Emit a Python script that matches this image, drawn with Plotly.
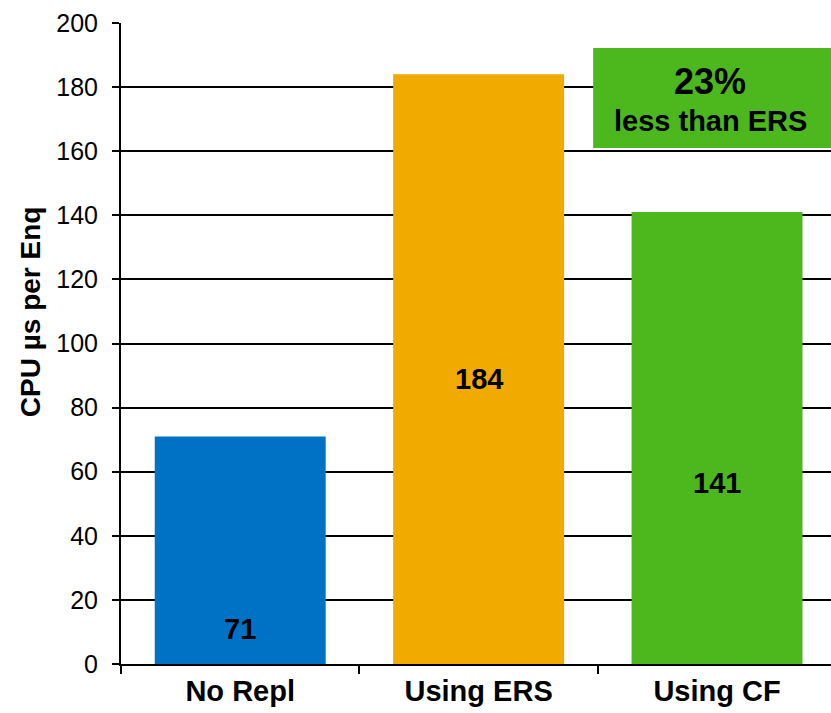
import plotly.graph_objects as go

categories = ["No Repl", "Using ERS", "Using CF"]
values = [71, 184, 141]
bar_colors = ["#0072C6", "#F0AA00", "#4DB71E"]
y_ticks = [0, 20, 40, 60, 80, 100, 120, 140, 160, 180, 200]
y_title = "CPU µs per Enq"
callout_big = "23%"
callout_small = "less than ERS"

FONT = "Liberation Sans, Arial, sans-serif"

fig = go.Figure()
fig.add_trace(go.Bar(
    x=categories, y=values, marker=dict(color=bar_colors, line=dict(width=0)),
    width=0.717, showlegend=False, hoverinfo="skip",
))

# value labels (positioned inside bars as in the original)
label_frac = [0.153, 0.484, 0.40]
for c, v, f in zip(categories, values, label_frac):
    fig.add_annotation(x=c, y=v * f, text=f"<b>{v}</b>", showarrow=False,
                       xanchor="center", yanchor="middle",
                       font=dict(family=FONT, size=29, color="black"))

# callout box
fig.add_shape(type="rect", xref="paper", yref="y", x0=0.665, x1=1.02, y0=161, y1=192.2,
              fillcolor="#4DB71E", line=dict(width=0), layer="above")
fig.add_annotation(xref="paper", yref="y", x=0.83, y=181.6, text=f"<b>{callout_big}</b>",
                   showarrow=False, xanchor="center", yanchor="middle",
                   font=dict(family=FONT, size=36, color="black"))
fig.add_annotation(xref="paper", yref="y", x=0.83, y=169.3, text=f"<b>{callout_small}</b>",
                   showarrow=False, xanchor="center", yanchor="middle",
                   font=dict(family=FONT, size=29, color="black"))

# y-axis title (placed as in the original, slightly above centre)
fig.add_annotation(xref="paper", yref="paper", x=-0.128, y=0.549, text=f"<b>{y_title}</b>",
                   textangle=-90, showarrow=False, xanchor="center", yanchor="middle",
                   font=dict(family=FONT, size=28, color="black"))

fig.update_layout(
    width=831, height=713,
    margin=dict(l=121, r=0, t=23, b=49),
    paper_bgcolor="white", plot_bgcolor="white",
    font=dict(family=FONT, color="black"),
    xaxis=dict(
        range=[-0.5, 2.478], showgrid=False, showline=True, linecolor="black", linewidth=2,
        ticks="outside", tickson="boundaries", ticklen=8, tickwidth=2, tickcolor="black",
        tickfont=dict(family=FONT, size=29, color="black"),
        tickvals=categories, ticktext=[f"<b>{c}</b>" for c in categories],
    ),
    yaxis=dict(
        range=[0, 200], tickvals=y_ticks, showgrid=True, gridcolor="black", gridwidth=2,
        showline=True, linecolor="black", linewidth=2,
        ticks="outside", ticklen=7, tickwidth=2, tickcolor="black",
        tickfont=dict(family=FONT, size=25, color="black"),
        ticklabelstandoff=9,
        zeroline=False,
    ),
)

fig.write_html("out.html")
